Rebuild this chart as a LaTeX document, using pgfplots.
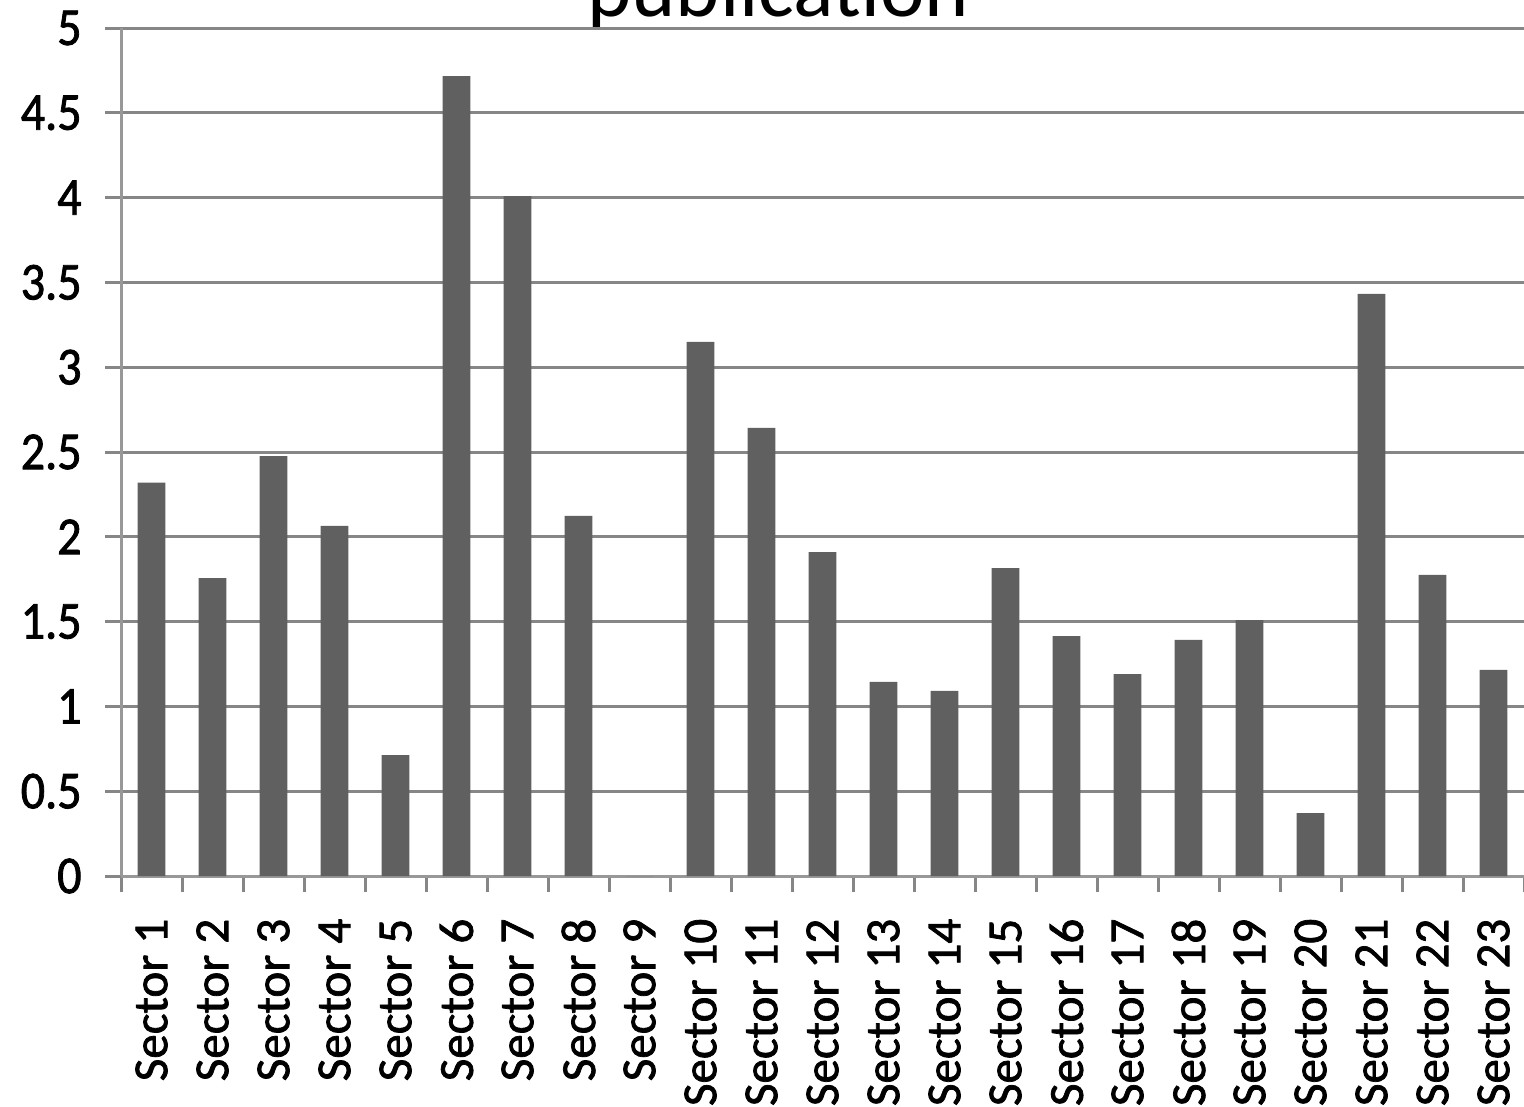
\documentclass[border=0pt]{standalone}
\usepackage{fontspec}
\setmainfont{Carlito}
\newfontfamily\ytickfont{Carlito}[FakeStretch=0.9, FakeBold=1.5]
\newfontfamily\xtickfont{Carlito}[FakeBold=1.5]
\usepackage{pgfplots}
\pgfplotsset{compat=1.18}

\definecolor{barfill}{RGB}{96,96,96}
\definecolor{gridgray}{RGB}{134,134,134}
\definecolor{axisgray}{RGB}{152,152,152}

\begin{document}
\begin{tikzpicture}
\useasboundingbox (0pt,0pt) rectangle (457.2pt,331.8pt);
% title (its upper part runs past the top edge of the page)
\node[anchor=base, inner sep=0pt] at (233.5pt,326.7pt)
  {\fontsize{25.3}{30}\selectfont publication};
\begin{axis}[
  at={(36.3pt,69pt)}, anchor=south west,
  scale only axis, width=420.9pt, height=254.4pt,
  xmin=-0.5, xmax=22.5, ymin=0, ymax=5,
  axis x line*=bottom, axis y line*=left,
  axis line style={-, axisgray, line width=0.9pt},
  ytick={0,0.5,...,5},
  yticklabels={0,0.5,1,1.5,2,2.5,3,3.5,4,4.5,5},
  ymajorgrids, grid style={gridgray, line width=0.9pt},
  tick align=outside,
  major tick length=4.8pt, minor tick length=4.8pt,
  tick style={gridgray, line width=0.9pt},
  xtick={0,...,22},
  major x tick style={draw=none},
  minor xtick={-0.5,0.5,...,22.5},
  xticklabels={Sector 1,Sector 2,Sector 3,Sector 4,Sector 5,Sector 6,Sector 7,Sector 8,Sector 9,Sector 10,Sector 11,Sector 12,Sector 13,Sector 14,Sector 15,Sector 16,Sector 17,Sector 18,Sector 19,Sector 20,Sector 21,Sector 22,Sector 23},
  xticklabel style={rotate=90, anchor=east, font=\xtickfont\fontsize{14.7}{15}\selectfont},
  xticklabel shift=4.5pt,
  yticklabel style={font=\ytickfont\fontsize{16}{17}\selectfont},
  yticklabel shift=3.5pt,
  /pgf/number format/assume math mode=true,
  clip=false,
]
\addplot[ybar, bar width=8.3pt, fill=barfill, draw=none] coordinates {
  (0,2.32) (1,1.757) (2,2.476) (3,2.064) (4,0.713) (5,4.717)
  (6,4.009) (7,2.123) (8,0) (9,3.149) (10,2.642) (11,1.910)
  (12,1.144) (13,1.091) (14,1.816) (15,1.415) (16,1.191) (17,1.392)
  (18,1.509) (19,0.371) (20,3.432) (21,1.775) (22,1.215)
};
\end{axis}
\end{tikzpicture}
\end{document}
